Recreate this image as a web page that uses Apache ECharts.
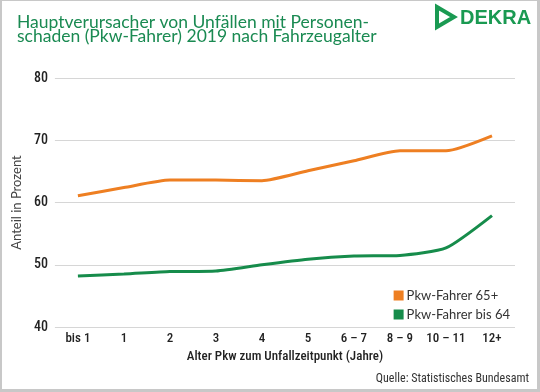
<!DOCTYPE html>
<html><head><meta charset="utf-8">
<script src="https://cdn.jsdelivr.net/npm/echarts@6/dist/echarts.min.js"></script>
<style>
html,body{margin:0;padding:0;width:540px;height:392px;background:#c8c8c8;overflow:hidden}
#c{position:absolute;left:2px;top:1px;width:535px;height:388px;background:#fff}
</style></head><body><div id="c"></div>
<script>
const categories = ['bis 1','1','2','3','4','5','6 – 7','8 – 9','10 – 11','12+'];
const senior = [61.1,62.4,63.6,63.6,63.5,65.1,66.7,68.3,68.3,70.7];
const younger = [48.2,48.5,48.9,49.0,50.0,50.9,51.4,51.5,52.7,57.9];
const seriesNames = ['Pkw-Fahrer 65+','Pkw-Fahrer bis 64'];
const yTicks = {min:40,max:80,interval:10};

const green='#168c4b', orange='#ee7f22';
const chart = echarts.init(document.getElementById('c'));
const narrow = "'Roboto Condensed','Liberation Sans Narrow',Roboto,sans-serif";
chart.setOption({
  animation:false,
  backgroundColor:'#fff',
  title:{text:'Hauptverursacher von Unfällen mit Personen-\nschaden (Pkw-Fahrer) 2019 nach Fahrzeugalter',
    left:10,top:10,textStyle:{fontFamily:'Lato',fontWeight:'normal',fontSize:17.5,lineHeight:13.5,color:'#1a8a52'}},
  graphic:[
    {type:'polygon',shape:{points:[[435,6],[452,16],[435,26]]},style:{fill:'none',stroke:'#1a9a52',lineWidth:4,lineJoin:'miter'}},
    {type:'text',left:458,top:7,style:{text:'DEKRA',fontFamily:'Liberation Sans',fontWeight:'bold',fontSize:20,fill:'#1a9a52'}},
    {type:'text',right:8,top:372,style:{text:'Quelle: Statistisches Bundesamt',fontFamily:narrow,fontSize:12,fill:'#333'}}
  ],
  legend:{orient:'vertical',right:22,top:283,itemWidth:10,itemHeight:10,itemGap:6,
    icon:'rect',textStyle:{fontFamily:'Lato',fontSize:13,color:'#333',padding:[0,0,0,-2]},
    data:seriesNames},
  grid:{left:44,right:22,top:77,bottom:62,containLabel:false},
  xAxis:{type:'category',data:categories,boundaryGap:true,
    axisLine:{show:false},axisTick:{show:false},
    axisLabel:{interval:0,margin:5,fontFamily:narrow,fontWeight:500,fontSize:13,color:'#222'},
    name:'Alter Pkw zum Unfallzeitpunkt (Jahre)',nameLocation:'middle',nameGap:21,
    nameTextStyle:{fontFamily:narrow,fontWeight:500,fontSize:13,color:'#222'}},
  yAxis:{type:'value',min:yTicks.min,max:yTicks.max,interval:yTicks.interval,
    axisLine:{show:false},axisTick:{show:false},
    splitLine:{lineStyle:{color:'#d6d6d6',width:1}},
    axisLabel:{margin:7,fontFamily:narrow,fontWeight:500,fontSize:14,color:'#222'},
    name:'Anteil in Prozent',nameLocation:'middle',nameGap:21,
    nameTextStyle:{fontFamily:'Lato',fontSize:13,color:'#444'}},
  series:[
    {name:seriesNames[0],type:'line',data:senior,smooth:0.2,symbol:'none',lineStyle:{color:orange,width:3},itemStyle:{color:orange}},
    {name:seriesNames[1],type:'line',data:younger,smooth:0.2,symbol:'none',lineStyle:{color:green,width:3},itemStyle:{color:green}}
  ]
});
</script></body></html>
